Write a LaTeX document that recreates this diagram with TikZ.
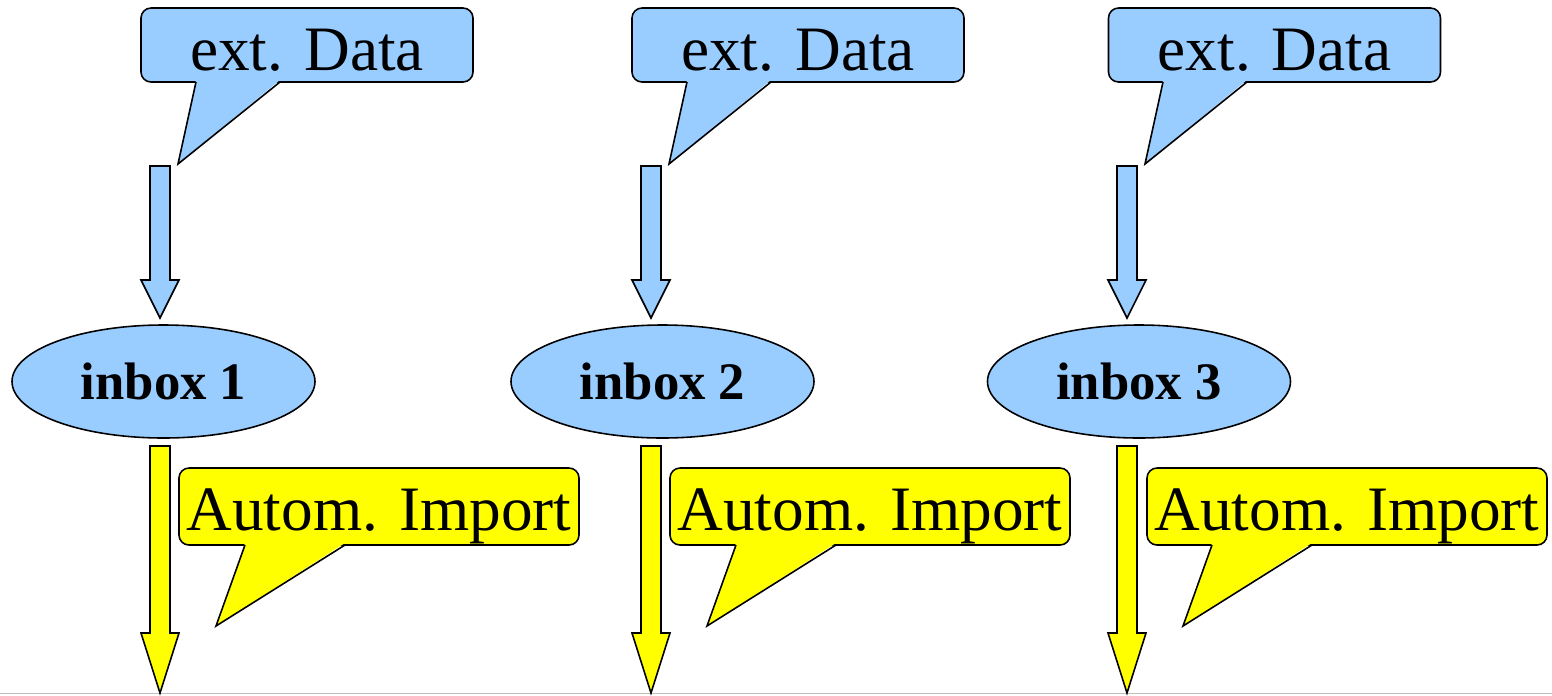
\documentclass[tikz,border=0pt]{standalone}
\usepackage{fontspec}
\setmainfont{Liberation Serif}
\usetikzlibrary{calc,shapes.geometric}
\definecolor{extblue}{HTML}{99CCFF}
\definecolor{importyellow}{HTML}{FFFF00}
\tikzset{
  databox/.style={draw, line width=0.45pt, rounded corners=0.1cm, fill=extblue,
    minimum width=3.32cm, minimum height=0.74cm, inner sep=0pt,
    text height=0.5cm, text depth=0cm,
    font=\fontsize{18}{20}\selectfont},
  importbox/.style={databox, fill=importyellow, minimum width=4cm, minimum height=0.77cm,
    text height=0.47cm},
  inboxnode/.style={draw, line width=0.45pt, ellipse, fill=extblue,
    minimum width=3.03cm, minimum height=1.13cm, inner sep=0pt,
    font=\fontsize{15}{18}\selectfont\bfseries},
}
% block arrow: top, tip, head length, colour
\newcommand{\blockarrow}[4]{%
  \draw[line width=0.45pt, fill=#4] ($(#1)+(-0.1,0)$) -- ($(#2)+(-0.1,#3)$) -- ($(#2)+(-0.19,#3)$)
    -- (#2) -- ($(#2)+(0.19,#3)$) -- ($(#2)+(0.1,#3)$) -- ($(#1)+(0.1,0)$) -- cycle;}
\begin{document}
\begin{tikzpicture}
    \useasboundingbox (0,0) rectangle (15.52,-6.95);
    \draw [color=black!25] (0,-6.935) -- (15.52,-6.935);
    % external data
    \node [databox] (ext1) at (3.07,-0.45) {ext. Data};
    \node [databox] (ext2) at (7.98,-0.45) {ext. Data};
    \node [databox] (ext3) at (12.745,-0.45) {ext. Data};
    \fill [extblue] (1.96,-0.80) -- (1.78,-1.64) -- (2.80,-0.80) -- cycle;
    \draw [line width=0.45pt] (1.96,-0.82) -- (1.78,-1.64) -- (2.80,-0.82);
    \fill [extblue] (6.87,-0.80) -- (6.69,-1.64) -- (7.71,-0.80) -- cycle;
    \draw [line width=0.45pt] (6.87,-0.82) -- (6.69,-1.64) -- (7.71,-0.82);
    \fill [extblue] (11.63,-0.80) -- (11.45,-1.64) -- (12.47,-0.80) -- cycle;
    \draw [line width=0.45pt] (11.63,-0.82) -- (11.45,-1.64) -- (12.47,-0.82);
    % inboxes
    \node [inboxnode] (inbox1) at (1.635,-3.815) {inbox 1};
    \node [inboxnode] (inbox2) at (6.625,-3.815) {inbox 2};
    \node [inboxnode] (inbox3) at (11.39,-3.815) {inbox 3};
    \coordinate (in1) at (1.60,-1.66);  \coordinate (in1end) at (1.60,-3.18);
    \coordinate (in2) at (6.51,-1.66);  \coordinate (in2end) at (6.51,-3.18);
    \coordinate (in3) at (11.27,-1.66); \coordinate (in3end) at (11.27,-3.18);
    \blockarrow{in1}{in1end}{0.38}{extblue}
    \blockarrow{in2}{in2end}{0.38}{extblue}
    \blockarrow{in3}{in3end}{0.38}{extblue}
    % import
    \coordinate (out1) at (1.60,-4.46);  \coordinate (out1end) at (1.60,-6.93);
    \coordinate (out2) at (6.51,-4.46);  \coordinate (out2end) at (6.51,-6.93);
    \coordinate (out3) at (11.27,-4.46); \coordinate (out3end) at (11.27,-6.93);
    \blockarrow{out1}{out1end}{0.60}{importyellow}
    \blockarrow{out2}{out2end}{0.60}{importyellow}
    \blockarrow{out3}{out3end}{0.60}{importyellow}
    \node [importbox] (imp1) at (3.79,-5.065) {Autom. Import};
    \node [importbox] (imp2) at (8.70,-5.065) {Autom. Import};
    \node [importbox] (imp3) at (13.47,-5.065) {Autom. Import};
    \fill [importyellow] (2.45,-5.43) -- (2.16,-6.26) -- (3.45,-5.43) -- cycle;
    \draw [line width=0.45pt] (2.45,-5.45) -- (2.16,-6.26) -- (3.45,-5.45);
    \fill [importyellow] (7.36,-5.43) -- (7.07,-6.26) -- (8.36,-5.43) -- cycle;
    \draw [line width=0.45pt] (7.36,-5.45) -- (7.07,-6.26) -- (8.36,-5.45);
    \fill [importyellow] (12.12,-5.43) -- (11.83,-6.26) -- (13.12,-5.43) -- cycle;
    \draw [line width=0.45pt] (12.12,-5.45) -- (11.83,-6.26) -- (13.12,-5.45);
\end{tikzpicture}
\end{document}
